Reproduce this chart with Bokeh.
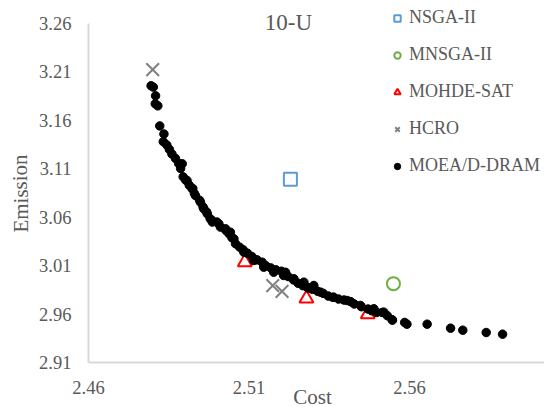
from bokeh.plotting import figure
from bokeh.models import Legend, LegendItem, Label, FixedTicker, Range1d
from bokeh.embed import file_html
from bokeh.resources import INLINE

nsga2_cost = [2.5229]
nsga2_em = [3.0995]
mnsga2_cost = [2.5550]
mnsga2_em = [2.9918]
mohde_cost = [2.5087, 2.5279, 2.5470]
mohde_em = [3.0139, 2.9765, 2.9602]
hcro_cost = [2.4800, 2.5174, 2.5203]
hcro_em = [3.2124, 2.9897, 2.9838]
dram_cost = [2.4795, 2.4802, 2.4809, 2.4808, 2.4816, 2.4822, 2.4835, 2.4833, 2.4844, 2.4852,
             2.4860, 2.4871, 2.4881, 2.4887, 2.4895, 2.4903, 2.4914, 2.4925, 2.4930, 2.4946,
             2.4957, 2.4968, 2.4979, 2.4986, 2.5000, 2.5011, 2.5028, 2.5038, 2.5047, 2.5058,
             2.5071, 2.5082, 2.5095, 2.5109, 2.5125, 2.5141, 2.5152, 2.5168, 2.5184, 2.5201,
             2.5214, 2.5222, 2.5239, 2.5253, 2.5268, 2.5285, 2.5298, 2.5314, 2.5331, 2.5347,
             2.5361, 2.5379, 2.5396, 2.5417, 2.5428, 2.5450, 2.5471, 2.5482, 2.5498, 2.5515,
             2.5531, 2.5547, 2.5585, 2.5592, 2.5655, 2.5728, 2.5766, 2.5839, 2.5890,
             2.4892, 2.4907, 2.4923, 2.4933, 2.4949, 2.4959, 2.4970, 2.4985, 2.5006, 2.5027,
             2.5042, 2.5053, 2.5084, 2.5115, 2.5146, 2.5177, 2.5208, 2.5240, 2.5271, 2.5302,
             2.5281, 2.5323, 2.5364, 2.5406, 2.5447, 2.5489, 2.5520, 2.5546]
dram_em = [3.1958, 3.1944, 3.1854, 3.1772, 3.1751, 3.1544, 3.1461, 3.1382, 3.1347, 3.1302,
           3.1254, 3.1209, 3.1157, 3.1105, 3.1019, 3.0985, 3.0933, 3.0898, 3.0847, 3.0778,
           3.0708, 3.0657, 3.0588, 3.0553, 3.0553, 3.0501, 3.0467, 3.0432, 3.0391, 3.0329,
           3.0294, 3.0267, 3.0232, 3.0198, 3.0163, 3.0139, 3.0104, 3.0080, 3.0060, 3.0046,
           3.0035, 2.9991, 2.9956, 2.9922, 2.9897, 2.9873, 2.9859, 2.9839, 2.9818, 2.9790,
           2.9777, 2.9759, 2.9749, 2.9732, 2.9708, 2.9680, 2.9656, 2.9638, 2.9621, 2.9621,
           2.9587, 2.9542, 2.9518, 2.9500, 2.9500, 2.9459, 2.9438, 2.9414, 2.9397,
           3.1154, 3.0981, 3.0896, 3.0827, 3.0758, 3.0690, 3.0638, 3.0569, 3.0535, 3.0483,
           3.0448, 3.0380, 3.0242, 3.0157, 3.0088, 3.0036, 3.0002, 2.9968, 2.9933, 2.9899,
           2.9881, 2.9830, 2.9778, 2.9744, 2.9693, 2.9659, 2.9624, 2.9545]
x_ticks = [2.46, 2.51, 2.56]
y_ticks = [2.91, 2.96, 3.01, 3.06, 3.11, 3.16, 3.21, 3.26]

FONT = "Times New Roman"
GREY = "#595959"

# frame covers the whole canvas; axes are pinned inside it
p = figure(width=544, height=407, output_backend="svg", toolbar_location=None,
           x_range=Range1d(2.43259, 2.60206), y_range=Range1d(2.8641, 3.2837),
           min_border=0)
p.outline_line_color = None
p.xgrid.grid_line_color = None
p.ygrid.grid_line_color = None

for ax in (p.xaxis[0], p.yaxis[0]):
    ax.axis_line_color = "#d9d9d9"
    ax.axis_line_width = 2
    ax.major_tick_line_color = None
    ax.minor_tick_line_color = None
    ax.major_label_text_font = FONT
    ax.major_label_text_font_size = "18.5px"
    ax.major_label_text_color = GREY
p.xaxis[0].ticker = FixedTicker(ticks=x_ticks)
p.yaxis[0].ticker = FixedTicker(ticks=y_ticks)
p.xaxis[0].fixed_location = 2.91
p.yaxis[0].fixed_location = 2.46
p.xaxis[0].bounds = (2.46, 2.60206)
p.yaxis[0].bounds = (2.91, 3.26)
p.xaxis[0].major_label_standoff = 12
p.yaxis[0].major_label_standoff = 11

r1 = p.scatter(nsga2_cost, nsga2_em, marker="square", size=13, line_color="#5b9bd5",
               line_width=2, fill_color=None)
r2 = p.scatter(mnsga2_cost, mnsga2_em, marker="circle", size=13, line_color="#70ad47",
               line_width=2, fill_color=None)
r3 = p.scatter(mohde_cost, mohde_em, marker="triangle", size=14, line_color="#ff0000",
               line_width=2, fill_color=None)
r4 = p.scatter(hcro_cost, hcro_em, marker="x", size=18, line_color="#808080", line_width=2)
r5 = p.scatter(dram_cost, dram_em, marker="circle", size=8.5, line_color="black",
               fill_color="black")

legend = Legend(items=[LegendItem(label="NSGA-II", renderers=[r1]),
                       LegendItem(label="MNSGA-II", renderers=[r2]),
                       LegendItem(label="MOHDE-SAT", renderers=[r3]),
                       LegendItem(label="HCRO", renderers=[r4]),
                       LegendItem(label="MOEA/D-DRAM", renderers=[r5])],
                location=(389, 231), border_line_color=None, background_fill_alpha=0,
                padding=0, margin=0, glyph_width=16, glyph_height=16, label_standoff=4,
                label_height=20, spacing=16,
                label_text_font=FONT, label_text_font_size="18px", label_text_color=GREY)
p.add_layout(legend)

p.add_layout(Label(x=288, y=385, x_units="screen", y_units="screen", text="10-U",
                   text_font=FONT, text_font_size="23px", text_color=GREY,
                   text_align="center", text_baseline="middle"))
p.add_layout(Label(x=312, y=11, x_units="screen", y_units="screen", text="Cost",
                   text_font=FONT, text_font_size="21px", text_color=GREY,
                   text_align="center", text_baseline="middle"))
p.add_layout(Label(x=20, y=214, x_units="screen", y_units="screen", text="Emission",
                   text_font=FONT, text_font_size="21px", text_color=GREY,
                   text_align="center", text_baseline="middle", angle=1.5708))

open("out.html", "w").write(file_html(p, INLINE))
